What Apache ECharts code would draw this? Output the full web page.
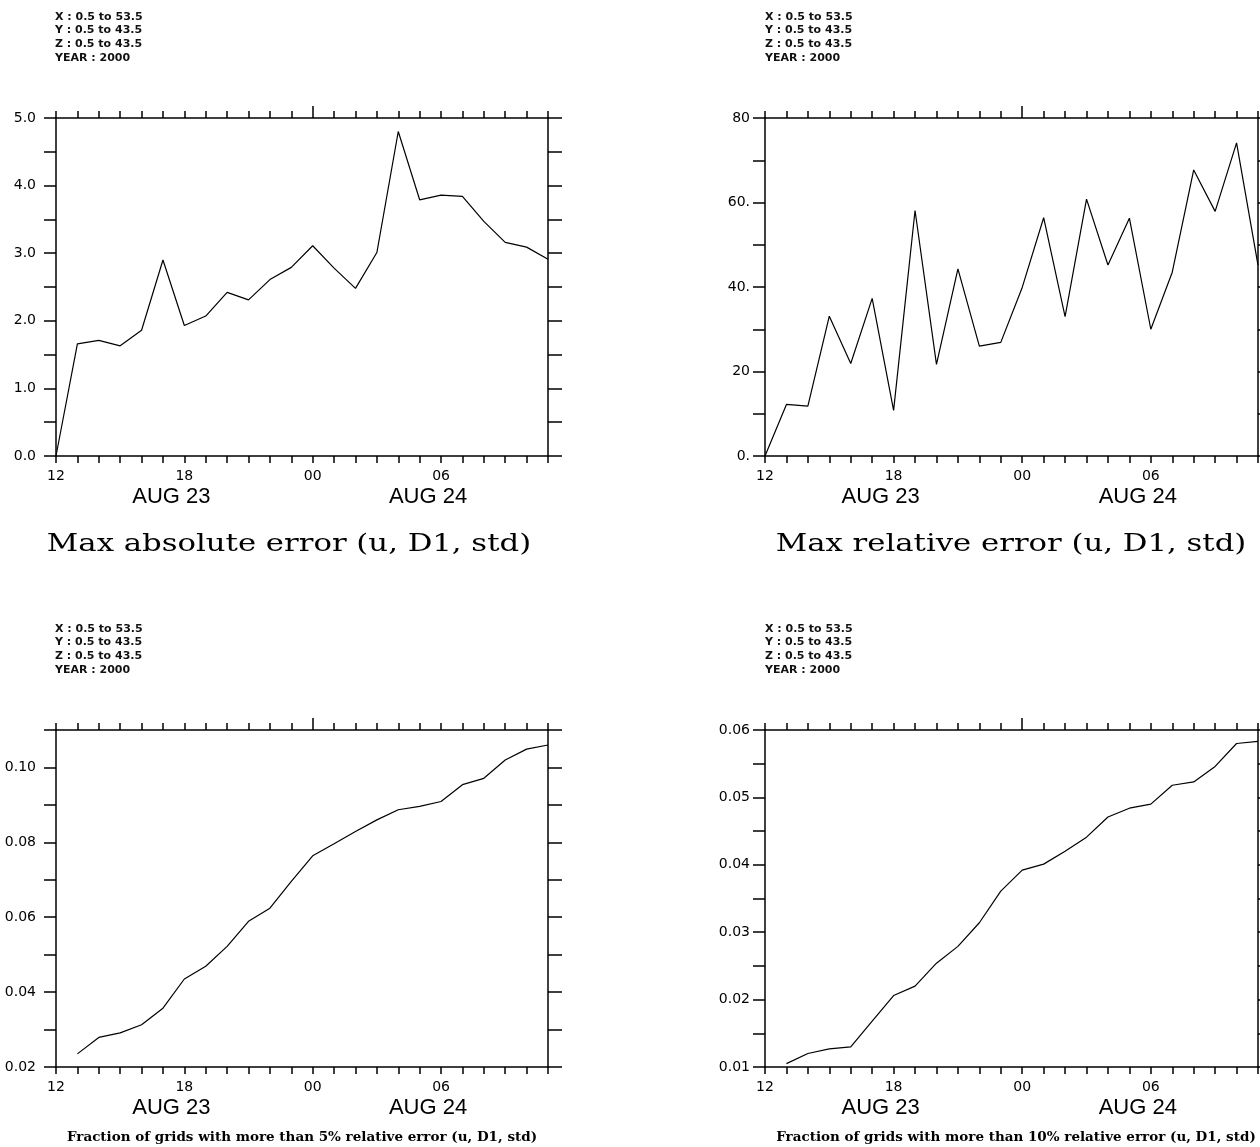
<!DOCTYPE html>
<html>
<head>
<meta charset="utf-8">
<script src="https://cdn.jsdelivr.net/npm/echarts@6/dist/echarts.min.js"></script>
<style>
html,body{margin:0;padding:0;background:#fff;}
#chart{width:1260px;height:1147px;}
</style>
</head>
<body>
<div id="chart"></div>
<script>
// ---- Data (hours since 12Z AUG 23) ----
const hours = [0,1,2,3,4,5,6,7,8,9,10,11,12,13,14,15,16,17,18,19,20,21,22,23];
const xTickValues = [0, 6, 12, 18];
const xTickLabels = ['12', '18', '00', '06'];
const dateValues = [6, 18];
const dateLabels = ['AUG 23', 'AUG 24'];

const maxAbsErr = [0.0, 1.66, 1.71, 1.63, 1.86, 2.90, 1.93, 2.07, 2.42, 2.31, 2.61, 2.79,
                   3.11, 2.78, 2.48, 3.01, 4.80, 3.79, 3.86, 3.84, 3.47, 3.16, 3.09, 2.91];
const maxRelErr = [0, 12.2, 11.8, 33.1, 21.9, 37.3, 10.8, 58.1, 21.7, 44.3, 26.0, 26.9,
                   39.9, 56.4, 33.0, 60.8, 45.2, 56.3, 30.0, 43.5, 67.7, 57.9, 74.1, 45.2];
const frac5 = [null, 0.0235, 0.0279, 0.0291, 0.0313, 0.0357, 0.0435, 0.0469, 0.0522, 0.0589, 0.0624, 0.0696,
               0.0764, 0.0796, 0.0829, 0.0860, 0.0887, 0.0896, 0.0909, 0.0954, 0.0971, 0.1020, 0.1049, 0.1060];
const frac10 = [null, 0.0105, 0.0120, 0.0127, 0.0130, 0.0168, 0.0206, 0.0220, 0.0254, 0.0279, 0.0314, 0.0361,
                0.0392, 0.0401, 0.0420, 0.0441, 0.0471, 0.0484, 0.0490, 0.0518, 0.0523, 0.0546, 0.0580, 0.0583];

const absTickValues = [0, 1, 2, 3, 4, 5];
const absTickLabels = ['0.0', '1.0', '2.0', '3.0', '4.0', '5.0'];
const relTickValues = [0, 20, 40, 60, 80];
const relTickLabels = ['0.', '20', '40.', '60.', '80'];
const frac5TickValues = [0.02, 0.04, 0.06, 0.08, 0.10];
const frac5TickLabels = ['0.02', '0.04', '0.06', '0.08', '0.10'];
const frac10TickValues = [0.01, 0.02, 0.03, 0.04, 0.05, 0.06];
const frac10TickLabels = ['0.01', '0.02', '0.03', '0.04', '0.05', '0.06'];

const headerLines = 'X : 0.5 to 53.5\nY : 0.5 to 43.5\nZ : 0.5 to 43.5\nYEAR : 2000';
const titles = [
  'Max absolute error (u, D1, std)',
  'Max relative error (u, D1, std)',
  'Fraction of grids with more than 5% relative error (u, D1, std)',
  'Fraction of grids with more than 10% relative error (u, D1, std)'
];

// ---- Layout ----
const grids = [
  {left: 56, top: 118, width: 492, height: 338},
  {left: 765, top: 118, width: 493, height: 338},
  {left: 56, top: 730, width: 492, height: 337},
  {left: 765, top: 730, width: 493, height: 337}
];
const axisColor = '#000';
const lineStyle = {color: axisColor, width: 1.5};

function lookup(vals, labels) {
  return function (v) {
    const i = vals.findIndex(t => Math.abs(t - v) < 1e-9);
    return i >= 0 ? labels[i] : '';
  };
}

const xAxis = [];
const yAxis = [];
const series = [];

const panels = [
  {data: maxAbsErr, min: 0, max: 5, interval: 0.5, tv: absTickValues, tl: absTickLabels, margin: 20},
  {data: maxRelErr, min: 0, max: 80, interval: 10, tv: relTickValues, tl: relTickLabels, margin: 15},
  {data: frac5, min: 0.02, max: 0.11, interval: 0.01, tv: frac5TickValues, tl: frac5TickLabels, margin: 20},
  {data: frac10, min: 0.01, max: 0.06, interval: 0.005, tv: frac10TickValues, tl: frac10TickLabels, margin: 15}
];

panels.forEach((p, gi) => {
  const xBase = xAxis.length;
  xAxis.push({
    type: 'value', gridIndex: gi, position: 'bottom', min: 0, max: 23, interval: 1,
    axisLine: {show: true, onZero: false, lineStyle},
    axisTick: {show: true, inside: false, length: 7, lineStyle},
    axisLabel: {customValues: xTickValues, formatter: lookup(xTickValues, xTickLabels),
                margin: 13, fontSize: 14, fontFamily: 'DejaVu Sans', color: '#000'},
    splitLine: {show: false}
  });
  xAxis.push({
    type: 'value', gridIndex: gi, position: 'top', min: 0, max: 23, interval: 1,
    axisLine: {show: true, onZero: false, lineStyle},
    axisTick: {show: true, inside: false, length: 7, lineStyle},
    axisLabel: {show: false}, splitLine: {show: false}
  });
  xAxis.push({
    type: 'value', gridIndex: gi, position: 'bottom', offset: 0, min: 0, max: 23,
    axisLine: {show: false, onZero: false}, axisTick: {show: false},
    axisLabel: {customValues: dateValues, formatter: lookup(dateValues, dateLabels),
                margin: 30, fontSize: 22, fontFamily: 'Liberation Sans', color: '#000',
                padding: [0, 26, 0, 0]},
    splitLine: {show: false}
  });
  xAxis.push({
    type: 'value', gridIndex: gi, position: 'top', offset: 0, min: 0, max: 23,
    axisLine: {show: false, onZero: false},
    axisTick: {show: true, inside: false, length: 12, customValues: [12], lineStyle},
    axisLabel: {show: false}, splitLine: {show: false}
  });
  const yBase = yAxis.length;
  yAxis.push({
    type: 'value', gridIndex: gi, position: 'left', min: p.min, max: p.max, interval: p.interval,
    axisLine: {show: true, onZero: false, lineStyle},
    axisTick: {show: true, inside: false, length: 12, lineStyle},
    axisLabel: {customValues: p.tv, formatter: lookup(p.tv, p.tl), margin: p.margin,
                fontSize: 14, fontFamily: 'DejaVu Sans', color: '#000'},
    splitLine: {show: false}
  });
  yAxis.push({
    type: 'value', gridIndex: gi, position: 'right', min: p.min, max: p.max, interval: p.interval,
    axisLine: {show: true, onZero: false, lineStyle},
    axisTick: {show: true, inside: false, length: 14, lineStyle},
    axisLabel: {show: false}, splitLine: {show: false}
  });
  series.push({
    type: 'line', xAxisIndex: xBase, yAxisIndex: yBase,
    data: hours.map((h, i) => [h, p.data[i]]).filter(d => d[1] !== null),
    showSymbol: false, symbol: 'none',
    lineStyle: {color: '#000', width: 1.2}, animation: false
  });
});

const graphic = [];
const headerPos = [[55, 10], [765, 10], [55, 622], [765, 622]];
headerPos.forEach(pos => {
  graphic.push({type: 'text', x: pos[0], y: pos[1],
    style: {text: headerLines, font: 'bold 11px "DejaVu Sans"', lineHeight: 13.7, fill: '#111'}});
});
const titlePos = [[289, 545, 0], [1011, 545, 0], [302, 1137, 1], [1016, 1137, 1]];
titlePos.forEach((pos, i) => {
  const big = !pos[2];
  graphic.push({type: 'text', x: pos[0], y: pos[1], scaleX: big ? 1.28 : 1,
    style: {text: titles[i], x: 0, y: 0, textAlign: 'center', textVerticalAlign: 'middle',
            font: big ? '24px "DejaVu Serif"' : 'bold 13.5px "DejaVu Serif"', fill: '#000'}});
});

const chart = echarts.init(document.getElementById('chart'));
chart.setOption({
  animation: false,
  backgroundColor: '#fff',
  grid: grids.map(g => Object.assign({containLabel: false}, g)),
  xAxis, yAxis, series, graphic
});
</script>
</body>
</html>
